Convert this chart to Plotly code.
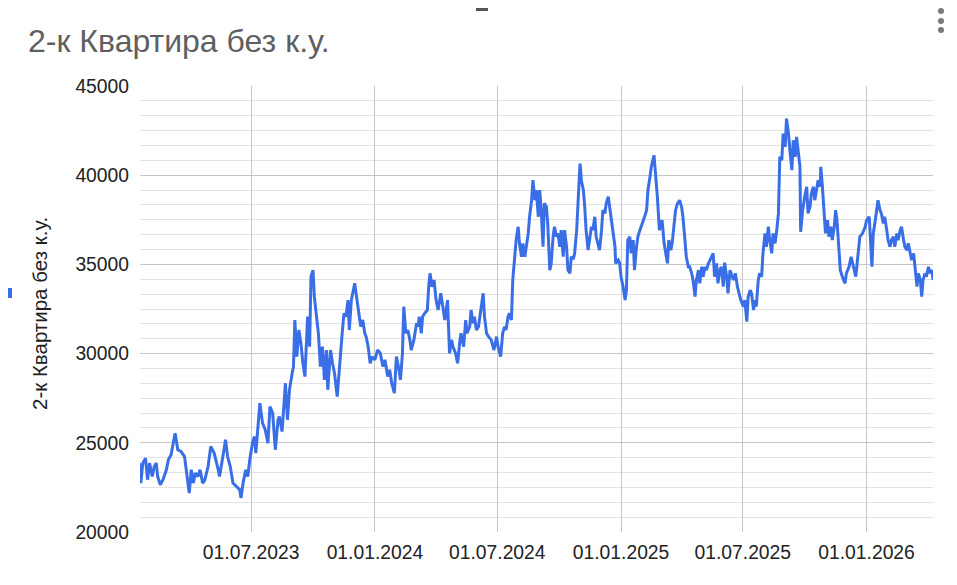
import pandas as pd
import plotly.graph_objects as go

# ---- data (day offsets from 2023-07-01, price values) ----
base_date = "2023-07-01"
day_offsets = [
    -166, -164, -161, -157, -154, -151, -147, -144, -141, -139, -135, -131, -126, -123, -119, -117,
    -113, -109, -104, -99, -94, -92, -89, -86, -83, -79, -76, -72, -69, -64, -60, -55, -50, -47,
    -42, -38, -35, -31, -27, -22, -17, -15, -12, -8, -5, -2, 2, 5, 7, 11, 13, 17, 21, 25, 28, 32,
    36, 40, 42, 46, 48, 51, 54, 57, 61, 63, 65, 68, 71, 74, 77, 80, 84, 87, 89, 92, 94, 97, 100,
    103, 106, 109, 112, 114, 118, 121, 124,
    128, 131, 135, 138, 141, 144, 146, 149, 151, 154, 156, 159, 163, 166, 169, 171, 174, 177, 180,
    184, 188, 192, 196, 199, 203, 206, 209, 213, 216, 219, 222, 225, 227, 230, 233, 236, 238, 242,
    246, 248, 250, 253, 255, 258, 262, 264, 266, 269, 272, 275, 278, 282, 285, 288, 292, 295, 298,
    300, 304, 307, 310, 312, 316, 319, 321, 325, 327, 330, 332, 335, 338, 341, 345, 347, 350, 353,
    357, 361, 365, 367, 371, 374, 377, 379, 382, 384, 387, 389, 392, 394, 397, 399, 402, 404, 407,
    409, 412, 414, 417, 419,
    422, 424, 427, 429, 431, 434, 436, 439, 441, 444, 446, 449, 451, 454, 456, 459, 461, 464, 466,
    469, 471, 474, 476, 479, 481, 484, 486, 489, 491, 494, 496, 498, 501, 503, 506, 508, 511, 513,
    516, 518, 521, 523, 526, 528, 531, 533, 536, 538, 541, 542, 546, 548, 550, 553, 556, 558, 560,
    563, 565, 568, 570, 573, 575, 578, 580, 583, 585, 588, 590, 593, 595, 599, 602, 604, 607, 609,
    611, 614, 616, 619, 621, 624, 626, 629, 631, 634, 637, 640, 642, 645, 647, 650, 652, 655, 657,
    660, 662, 665, 667, 670, 672, 675, 677, 680, 682, 684, 687, 689, 692, 694, 697, 699, 702, 704,
    707, 709, 712,
    717, 720, 723, 725, 728, 732, 734, 737, 739, 742, 744, 747, 749, 751, 754, 756, 759, 761, 764,
    766, 769, 771, 774, 776, 779, 781, 784, 786, 789, 791, 794, 796, 799, 801, 804, 806, 809, 811,
    813, 816, 817, 820, 823, 826, 828, 831, 833, 836, 838, 841, 843, 846, 847, 849, 852, 854, 857,
    859, 862, 864, 867, 869, 871, 874, 876, 879, 883, 885, 889, 892, 895, 899, 902, 905, 909, 913,
    915, 919, 923, 925, 928, 930, 932, 935, 937, 940, 942, 945, 947, 950, 952, 955, 957, 960, 962,
    965, 967, 970, 972, 975, 977, 980, 982, 985, 987, 990, 992, 995, 997, 999, 1002, 1004, 1007,
    1009, 1012, 1014,
]
prices = [
    23860, 22740, 23860, 24140, 22930, 23860, 23110, 23670, 23860, 23110, 22650, 22930, 23490, 24050, 24330, 24790,
    25540, 24610, 24510, 24230, 22740, 22180, 23490, 22740, 23300, 23110, 23490, 22740, 22900, 23670, 24790, 24420, 23670, 23110,
    24230, 25170, 24230, 23670, 22740, 22550, 22370, 21900, 22740, 23490, 23110, 24050, 24980, 25350, 24420, 26290, 27220, 26100, 25730, 24980, 27030, 26660,
    24610, 26290, 26470, 25630, 26850, 28340, 26290, 27970, 28900, 29270, 31880, 29830, 31330, 30580, 29460, 28710, 32070, 30390, 34310, 34680, 33190, 32070, 31140,
    29270, 30390, 28530, 30200, 27970, 30200, 29460, 28900,
    27590, 29270, 30950, 32260, 32070, 33000, 31320, 33000, 33380, 33940, 33380, 32630, 31510, 31880, 31140, 30950, 30390, 29460, 29830,
    29650, 30200, 30020, 29270, 29650, 28710, 29090, 28340, 27780, 29830, 29270, 28530, 30020, 32630, 31140, 31320, 30770, 30200, 30770,
    31700, 31510, 32070, 31140, 32070, 32260, 32440, 33750, 34500, 33750, 34120, 33000, 32440, 33380, 32630, 31880, 33000, 30020, 30770,
    30390, 30020, 29460, 30580, 31140, 30390, 31880, 31140, 31510, 32440, 31700, 32070, 31320, 31510, 32260, 33380, 32070, 31140, 30950,
    30770, 30200, 30950, 30390, 29830, 31140, 31510, 31320, 32070, 32260, 31880, 34120, 35800, 36360, 37110, 36180, 35430, 36180, 35430,
    35990, 36740, 37670, 38600, 39720,
    38600, 39160, 37670, 39160, 38230, 35990, 38420, 38230, 37300, 34680, 35000, 36550, 37110, 36550, 36740, 35990, 36920, 35430, 36920,
    35990, 34680, 34500, 35430, 35300, 35620, 36920, 38790, 40650, 39720, 39160, 38230, 36920, 35800, 36360, 37110, 36920, 37670, 36550,
    36180, 35800, 36920, 38040, 37860, 38420, 38790, 38230, 37300, 36550, 35990, 35060, 35240, 35060, 34310, 33750, 33000, 33560, 36360,
    36550, 35620, 36360, 34680, 35990, 36550, 36920, 37110, 37480, 37670, 38040, 39160, 39910, 40470, 41120, 39910, 38790, 36920, 37300,
    37480, 36180, 35800, 35060, 36360, 35800, 36180, 37300, 38040, 38420, 38600, 38230, 37670, 36360, 35430, 34870, 34870, 34500, 34120,
    33190, 34120, 34680, 33940, 34870, 34310, 34870, 34680, 35060, 35240, 35430, 35620, 34310, 35060, 33940, 34680, 34870, 33750, 35100,
    34310, 33380, 34680,
    34120, 34500, 33750, 33380, 33000, 32630, 33000, 31790, 33190, 33560, 33380, 32440, 33000, 32630, 34120, 34500, 34310, 35620, 36740,
    35990, 37110, 36360, 35620, 36740, 36180, 36740, 37860, 41030, 40840, 42330, 41590, 43170, 42330, 41400, 40280, 41960, 41030, 42150,
    41400, 40470, 36830, 38040, 38790, 39350, 37860, 38230, 38980, 39350, 38600, 39160, 39720, 39350, 40470, 39540, 38040, 36740, 37480,
    36550, 37110, 36360, 37110, 38040, 37480, 35430, 34680, 34310, 33940, 34500, 34870, 35430, 34870, 34310, 35430, 36550, 36740, 37110,
    37480, 37670, 34870, 36740, 37480, 38230, 38600, 38040, 37860, 37300, 37670, 36920, 36360, 35990, 36360, 36550, 35990, 36740, 36360,
    36920, 37110, 36360, 35990, 35800, 36180, 35620, 35240, 35620, 34680, 33750, 34500, 34120, 33190, 34120, 34500, 34310, 34870,
    34500, 34680, 34120,
]

series_name = "2-к Квартира без к.у."
x_tick_dates = ["2023-07-01", "2024-01-01", "2024-07-01", "2025-01-01", "2025-07-01", "2026-01-01"]
x_tick_labels = ["01.07.2023", "01.01.2024", "01.07.2024", "01.01.2025", "01.07.2025", "01.01.2026"]
y_ticks = [20000, 25000, 30000, 35000, 40000, 45000]

dates = pd.Timestamp(base_date) + pd.to_timedelta(day_offsets, unit="D")

# page is rendered with an 8px body margin; work in page pixel coords
OFF = 8
W, H = 957 - OFF, 585 - OFF
PL, PR, PT, PB = 140, 933, 86, 532          # plot area in page coords
L, R, T, B = PL - OFF, 957 - PR, PT - OFF, 585 - PB
pw, ph = PR - PL, PB - PT


def px(x):
    return (x - PL) / pw


def py(y):
    return (PB - y) / ph


FONT = "Arial, Liberation Sans, sans-serif"
LINE = "#3a6ee6"
TICK_SIZE = 19.3

fig = go.Figure()
fig.add_trace(go.Scatter(
    x=dates, y=prices, mode="lines", name=series_name,
    line=dict(color=LINE, width=3), showlegend=False,
))

fig.update_layout(
    width=W, height=H,
    margin=dict(l=L, r=R, t=T, b=B),
    paper_bgcolor="white", plot_bgcolor="white",
    font=dict(family=FONT, size=TICK_SIZE, color="#222222"),
    title=dict(
        text=series_name, xref="container", yref="container",
        x=(28 - OFF) / W, xanchor="left", y=1 - (41 - OFF) / H, yanchor="middle",
        font=dict(family=FONT, size=32, color="#5f5f5f"),
    ),
    xaxis=dict(
        type="date",
        range=["2023-01-16 19:00", "2026-04-09 19:00"],
        tickvals=x_tick_dates, ticktext=x_tick_labels,
        showgrid=True, gridcolor="#c6c6c6", gridwidth=1,
        showline=False, zeroline=False, ticks="",
        ticklabelstandoff=7,
        tickfont=dict(family=FONT, size=TICK_SIZE, color="#222222"),
    ),
    yaxis=dict(
        range=[20000, 45000],
        tickvals=y_ticks, ticktext=[str(v) for v in y_ticks],
        showgrid=True, gridcolor="#c6c6c6", gridwidth=1,
        minor=dict(dtick=5000 / 6, tick0=20000, showgrid=True, gridcolor="#e2e2e2", gridwidth=1),
        showline=False, zeroline=False, ticks="",
        ticklabelstandoff=10,
        tickfont=dict(family=FONT, size=TICK_SIZE, color="#222222"),
    ),
    annotations=[
        dict(
            text=series_name, textangle=-90, xref="paper", yref="paper",
            x=px(39), y=py(313), xanchor="center", yanchor="middle",
            showarrow=False, font=dict(family=FONT, size=20.5, color="#222222"),
        )
    ],
    shapes=[
        # menu dots
        *[dict(type="circle", xref="paper", yref="paper",
               x0=px(938), x1=px(944), y0=py(cy + 3), y1=py(cy - 3),
               fillcolor="#7a7a7a", line=dict(width=0))
          for cy in (11, 21, 30)],
        # small page artifacts
        dict(type="rect", xref="paper", yref="paper", x0=px(OFF), x1=px(OFF + 4), y0=py(298), y1=py(288),
             fillcolor=LINE, line=dict(width=0)),
        dict(type="rect", xref="paper", yref="paper", x0=px(476), x1=px(488), y0=py(OFF + 3), y1=py(OFF),
             fillcolor="#555555", line=dict(width=0)),
    ],
)

fig.write_html("out.html", config={"displayModeBar": False})
